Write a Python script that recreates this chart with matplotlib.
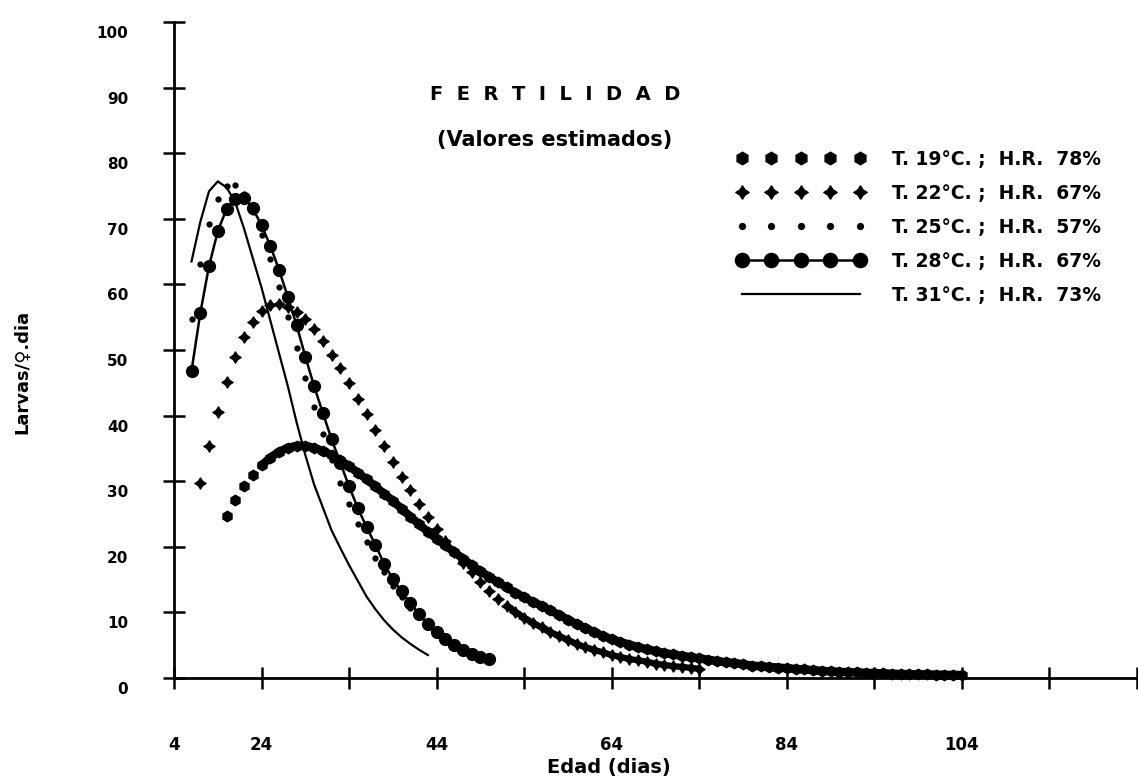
import numpy as np
import matplotlib
matplotlib.use("Agg")
import matplotlib.pyplot as plt
from matplotlib.path import Path
from matplotlib.transforms import ScaledTranslation

plt.rcParams['font.family'] = ['DejaVu Sans']
plt.rcParams['font.weight'] = 'bold'

# ---------------- data ----------------
labels = ["T. 19°C. ;  H.R.  78%",
          "T. 22°C. ;  H.R.  67%",
          "T. 25°C. ;  H.R.  57%",
          "T. 28°C. ;  H.R.  67%",
          "T. 31°C. ;  H.R.  73%"]

start19 = 20
fert19 = [24.7, 27.1, 29.2, 30.9, 32.4, 33.6, 34.5, 35.1, 35.4, 35.4,
          35.1, 34.6, 34.0, 33.2, 32.3, 31.3, 30.3, 29.2, 28.1, 27.0,
          25.8, 24.6, 23.4, 22.3, 21.2, 20.2, 19.2, 18.2, 17.2, 16.3,
          15.4, 14.6, 13.8, 13.0, 12.3, 11.6, 11.0, 10.3, 9.6, 8.9,
          8.2, 7.6, 7.0, 6.4, 5.9, 5.5, 5.1, 4.7, 4.4, 4.1,
          3.8, 3.6, 3.4, 3.2, 3.0, 2.8, 2.6, 2.4, 2.3, 2.1,
          1.9, 1.8, 1.7, 1.6, 1.5, 1.4, 1.3, 1.2, 1.1, 1.0,
          0.95, 0.9, 0.85, 0.8, 0.75, 0.7, 0.66, 0.62, 0.6, 0.57,
          0.55, 0.52, 0.5, 0.48, 0.46]

start22 = 17
fert22 = [29.7, 35.4, 40.6, 45.1, 48.9, 52.0, 54.3, 55.9, 56.8, 57.0,
          56.6, 55.8, 54.7, 53.2, 51.4, 49.3, 47.2, 45.0, 42.6, 40.2,
          37.8, 35.4, 33.0, 30.7, 28.6, 26.5, 24.6, 22.7, 20.9, 19.2,
          17.6, 16.1, 14.7, 13.2, 12.0, 11.0, 10.1, 9.2, 8.4, 7.7,
          7.0, 6.4, 5.8, 5.2, 4.7, 4.3, 3.9, 3.5, 3.2, 2.9,
          2.7, 2.5, 2.2, 2.0, 1.8, 1.7, 1.55, 1.4]

start25 = 16
fert25 = [54.8, 63.1, 69.2, 73.0, 75.0, 75.2, 73.8, 71.0, 67.5, 63.8,
          59.6, 55.0, 50.3, 45.7, 41.3, 37.2, 33.3, 29.8, 26.5, 23.5,
          20.8, 18.3, 16.1, 14.1, 12.3, 10.7, 9.3, 8.1, 7.0, 6.0,
          5.2, 4.5, 3.9, 3.4]

start28 = 16
fert28 = [46.8, 55.6, 62.8, 68.1, 71.5, 73.0, 73.2, 71.6, 69.0, 65.9,
          62.2, 58.1, 53.8, 49.0, 44.5, 40.4, 36.4, 32.8, 29.2, 25.9,
          23.0, 20.3, 17.4, 15.1, 13.2, 11.4, 9.7, 8.2, 7.0, 6.0,
          5.1, 4.3, 3.7, 3.2, 2.9]

start31 = 16
fert31 = [63.5, 69.5, 74.2, 75.7, 74.8, 72.5, 68.5, 64.0, 59.5, 54.5,
          49.5, 44.5, 39.0, 34.0, 29.5, 26.0, 22.5, 19.8, 17.2, 14.8,
          12.4, 10.5, 8.8, 7.4, 6.2, 5.2, 4.3, 3.5]

xticks = [14, 24, 34, 44, 54, 64, 74, 84, 94, 104, 114, 124]
xticklabels = ["4", "24", "", "44", "", "64", "", "84", "", "104", "", ""]
yticks = [0, 10, 20, 30, 40, 50, 60, 70, 80, 90, 100]
yticklabels = ["0", "10", "20", "30", "40", "50", "60", "70", "80", "90", "100"]

# ---------------- figure ----------------
W, H = 1138, 780
fig = plt.figure(figsize=(W / 100, H / 100), dpi=100)
ax = fig.add_axes([174 / W, 102 / H, 963 / W, 656 / H])

star4 = Path.unit_regular_star(4, innerCircle=0.55)

def days(start, vals):
    return np.arange(start, start + len(vals))

d19 = days(start19, fert19)
d22 = days(start22, fert22)

# dense marker runs that merge into a band in the original plot
ax.plot(d19[4:], fert19[4:], ls='-', lw=6, color='black',
        solid_capstyle='round', clip_on=False)
ax.plot(d22[35:], fert22[35:], ls='-', lw=4.5, color='black',
        solid_capstyle='round', clip_on=False)

ax.plot(d19, fert19, ls='none', marker='h', ms=7.5,
        color='black', label=labels[0], clip_on=False)
ax.plot(d22, fert22, ls='none', marker=star4, ms=8,
        color='black', label=labels[1], clip_on=False)
ax.plot(days(start25, fert25), fert25, ls='none', marker='o', ms=3.5,
        color='black', label=labels[2], clip_on=False)
ax.plot(days(start28, fert28), fert28, ls='-', lw=1.8, marker='o', ms=8.5,
        color='black', label=labels[3], clip_on=False)
ax.plot(days(start31, fert31), fert31, ls='-', lw=1.6, color='black',
        label=labels[4], clip_on=False)

ax.set_xlim(14, 124)
ax.set_ylim(0, 100)

for s in ['top', 'right']:
    ax.spines[s].set_visible(False)
for s in ['left', 'bottom']:
    ax.spines[s].set_linewidth(2.0)

ax.set_xticks(xticks)
ax.set_xticklabels(xticklabels, fontsize=12, fontweight='bold')
ax.set_yticks(yticks)
ax.set_yticklabels(yticklabels, fontsize=11, fontweight='bold')
ax.tick_params(axis='x', direction='inout', length=16, width=1.8, pad=34)
ax.tick_params(axis='y', direction='inout', length=16, width=1.8, pad=25)

off = ScaledTranslation(0, -10 / 100, fig.dpi_scale_trans)
for lab in ax.get_yticklabels():
    lab.set_transform(lab.get_transform() + off)

leg = ax.legend(loc='upper left', bbox_to_anchor=(736 / W, 1 - 150 / H),
                bbox_transform=fig.transFigure, numpoints=5,
                handlelength=6.9, handletextpad=1.4, labelspacing=0.8,
                frameon=False, borderpad=0, borderaxespad=0,
                prop={'size': 13.5, 'weight': 'bold'}, markerscale=1.2)

fig.text(555 / W, 1 - 95 / H, "F  E  R  T  I  L  I  D  A  D", ha='center',
         va='center', fontsize=14, fontweight='bold')
fig.text(555 / W, 1 - 140 / H, "(Valores estimados)", ha='center',
         va='center', fontsize=15, fontweight='bold')
fig.text(22 / W, 1 - 372 / H, "Larvas/♀.dia", rotation=90, ha='center',
         va='center', fontsize=13, fontweight='bold')
fig.text(609 / W, 1 - 767 / H, "Edad (dias)", ha='center', va='center',
         fontsize=14, fontweight='bold')

fig.savefig("out.png", dpi=100)
